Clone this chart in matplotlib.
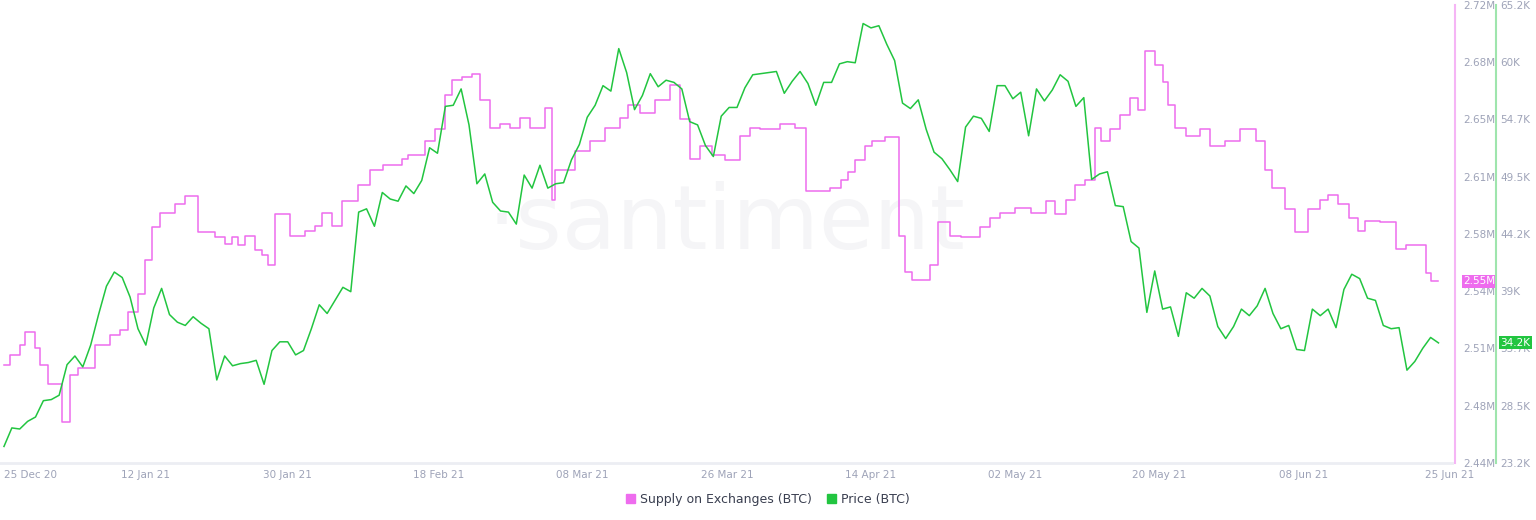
import matplotlib
matplotlib.use("Agg")
import matplotlib.pyplot as plt
import numpy as np
from matplotlib.patches import Patch

price = [24.7,26.4,26.3,27.0,27.4,28.9,29.0,29.4,32.2,33.0,32.0,34.0,36.8,39.4,40.7,40.2,38.4,35.5,34.0,37.4,39.2,36.8,36.1,35.8,36.6,36.0,35.5,30.8,33.0,32.1,32.3,32.4,32.6,30.4,33.5,34.3,34.3,33.1,33.5,35.5,37.7,36.9,38.1,39.3,38.9,46.2,46.5,44.9,48.0,47.4,47.2,48.6,47.9,49.1,52.1,51.6,55.9,56.0,57.5,54.2,48.8,49.7,47.1,46.3,46.2,45.1,49.6,48.4,50.5,48.4,48.8,48.9,51.0,52.4,54.9,56.0,57.8,57.3,61.2,59.0,55.6,56.9,58.9,57.7,58.3,58.1,57.5,54.5,54.2,52.3,51.3,55.0,55.8,55.8,57.6,58.8,58.9,59.0,59.1,57.1,58.2,59.1,58.0,56.0,58.1,58.1,59.8,60.0,59.9,63.5,63.1,63.3,61.6,60.1,56.2,55.7,56.5,53.8,51.7,51.1,50.1,49.0,54.0,55.0,54.8,53.6,57.8,57.8,56.6,57.2,53.2,57.5,56.4,57.4,58.8,58.2,55.9,56.7,49.2,49.7,49.9,46.8,46.7,43.5,42.9,37.0,40.8,37.3,37.5,34.8,38.8,38.3,39.2,38.5,35.7,34.6,35.7,37.3,36.7,37.6,39.2,36.9,35.5,35.8,33.6,33.5,37.3,36.7,37.3,35.6,39.1,40.5,40.1,38.3,38.1,35.8,35.5,35.6,31.7,32.5,33.7,34.7,34.2]

supply_day = [0,0.75,2.0,2.6,3.9,4.5,5.5,7.3,8.3,9.3,11.4,13.3,14.6,15.6,16.9,17.7,18.6,19.6,21.5,22.8,24.4,26.5,27.8,28.7,29.4,30.3,31.6,32.5,33.2,34.1,36.0,37.9,39.1,40.0,41.3,42.5,44.5,46.0,47.7,50.1,50.8,53.0,54.2,55.5,56.4,57.6,58.9,59.9,61.1,62.4,63.6,64.9,66.2,68.1,68.9,69.3,71.8,73.7,75.6,77.5,78.5,80.0,81.9,83.8,85.0,86.3,87.5,89.1,90.7,92.6,93.8,95.1,97.6,99.5,100.8,103.9,105.2,106.2,107.0,108.3,109.2,110.8,112.5,113.3,114.2,116.5,117.5,119.0,120.3,122.8,124.0,125.3,127.2,129.1,131.0,132.2,133.5,134.7,136.0,137.2,137.9,139.1,140.4,141.6,142.6,143.5,144.8,145.7,146.4,147.3,148.6,150.4,151.7,153.6,155.5,157.4,158.6,159.5,161.1,162.4,164.0,165.5,166.5,167.8,169.1,170.3,171.2,173.1,175.0,176.3,178.8,179.4,180.4]
supply = [2.500,2.506,2.512,2.520,2.510,2.500,2.488,2.465,2.494,2.498,2.512,2.518,2.521,2.532,2.543,2.564,2.584,2.593,2.598,2.603,2.581,2.578,2.574,2.578,2.573,2.579,2.570,2.567,2.561,2.592,2.579,2.582,2.585,2.593,2.585,2.600,2.610,2.619,2.622,2.626,2.628,2.637,2.644,2.665,2.674,2.676,2.678,2.662,2.645,2.647,2.645,2.651,2.645,2.657,2.601,2.619,2.631,2.637,2.645,2.651,2.659,2.654,2.662,2.671,2.650,2.626,2.634,2.628,2.625,2.640,2.645,2.644,2.647,2.645,2.606,2.608,2.613,2.618,2.625,2.634,2.637,2.639,2.579,2.557,2.552,2.561,2.587,2.579,2.578,2.584,2.590,2.593,2.596,2.593,2.600,2.592,2.601,2.610,2.613,2.645,2.637,2.644,2.653,2.663,2.656,2.692,2.683,2.673,2.659,2.645,2.640,2.644,2.634,2.637,2.644,2.637,2.619,2.608,2.595,2.581,2.595,2.601,2.604,2.598,2.590,2.582,2.588,2.587,2.571,2.573,2.556,2.551]

date_ticks = [0,17.8,35.7,54.6,72.7,91.0,109.0,127.2,145.3,163.4,181.8]
date_labels = ["25 Dec 20","12 Jan 21","30 Jan 21","18 Feb 21","08 Mar 21","26 Mar 21","14 Apr 21","02 May 21","20 May 21","08 Jun 21","25 Jun 21"]
supply_ticks = [2.44,2.475,2.51,2.545,2.58,2.615,2.65,2.685,2.72]
supply_labels = ["2.44M","2.48M","2.51M","2.54M","2.58M","2.61M","2.65M","2.68M","2.72M"]
price_ticks = [23.2,28.45,33.7,38.95,44.2,49.45,54.7,59.95,65.2]
price_labels = ["23.2K","28.5K","33.7K","39K","44.2K","49.5K","54.7K","60K","65.2K"]

PINK = "#ee6cee"; GREEN = "#22c540"; TXT = "#9ea3b8"
fig = plt.figure(figsize=(15.36,5.2), dpi=100)
ax = fig.add_axes([0, 0.11, 1452/1536, 1-0.11-5/520])
ax2 = ax.twinx()
pd_days = np.linspace(0, 180.4, len(price))
ax.step(supply_day, supply + [supply[-1]], where="post", color=PINK, lw=1.1)
ax2.plot(pd_days, price, color=GREEN, lw=1.1)
ax.set_xlim(-0.5, 182.1)
ax.set_ylim(2.44, 2.72); ax2.set_ylim(23.2, 65.2)
for s in ["top","left"]:
    ax.spines[s].set_visible(False); ax2.spines[s].set_visible(False)
ax.spines["right"].set_visible(False)
ax.spines["bottom"].set_color("#eceef3"); ax2.spines["bottom"].set_visible(False)
ax.spines["bottom"].set_linewidth(2)
ax.yaxis.tick_right()
ax2.spines["right"].set_visible(False)
fig.add_artist(plt.Line2D([1455/1536]*2, [1-463/520, 1-5/520], color="#f5b5f5", lw=1.5))
fig.add_artist(plt.Line2D([1496/1536]*2, [1-463/520, 1-5/520], color="#9fe5ad", lw=1.5))
ax.set_yticks(supply_ticks); ax.set_yticklabels(supply_labels)
ax.tick_params(axis="y", length=0, pad=8, labelsize=7.5, labelcolor=TXT)
ax2.set_yticks(price_ticks); ax2.set_yticklabels(price_labels)
ax2.tick_params(axis="y", length=0, pad=35, labelsize=7.5, labelcolor=TXT)
ax.set_xticks(date_ticks); ax.set_xticklabels(date_labels)
ax.get_xticklabels()[0].set_ha("left")
ax.tick_params(axis="x", length=0, pad=5, labelsize=7.5, labelcolor=TXT)
ax.text(0.5, 0.52, "·santiment", transform=ax.transAxes, fontsize=64, color="#f5f5f7", ha="center", va="center", zorder=0)
ax.annotate(f"{supply[-1]:.2f}M", xy=(1, supply[-1]), xycoords=("axes fraction","data"), xytext=(8,0), textcoords="offset points",
            va="center", fontsize=7.5, color="white", bbox=dict(boxstyle="square,pad=0.15", fc=PINK, ec="none"))
ax2.annotate(f"{price[-1]:.1f}K", xy=(1, price[-1]), xycoords=("axes fraction","data"), xytext=(35,0), textcoords="offset points",
             va="center", fontsize=7.5, color="white", bbox=dict(boxstyle="square,pad=0.15", fc=GREEN, ec="none"))
fig.legend(handles=[Patch(color=PINK, label="Supply on Exchanges (BTC)"), Patch(color=GREEN, label="Price (BTC)")],
           loc="center", bbox_to_anchor=(0.5, 0.04), ncol=2, frameon=False, fontsize=9, handlelength=0.7, handleheight=0.7,
           handletextpad=0.4, columnspacing=1.2, labelcolor="#3a3f50")
fig.savefig("out.png", dpi=100)
